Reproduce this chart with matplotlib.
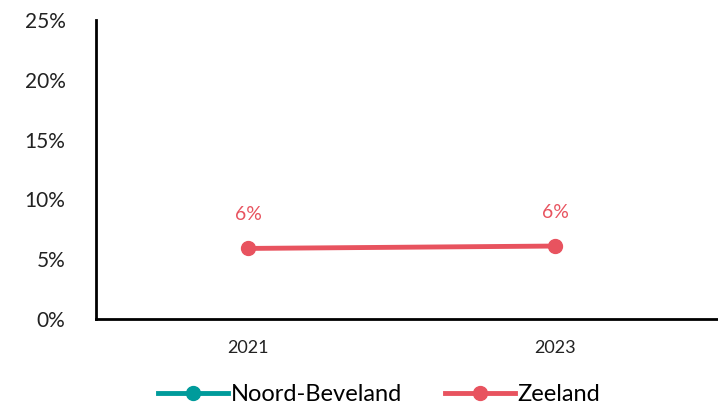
import matplotlib.pyplot as plt
import numpy as np
from matplotlib.ticker import FuncFormatter

years = ["2021", "2023"]
noord_beveland = [np.nan, np.nan]
zeeland = [5.9, 6.1]
zeeland_labels = ["6%", "6%"]

plt.rcParams["font.family"] = ["Lato", "DejaVu Sans"]

fig = plt.figure(figsize=(7.18, 4.08), dpi=100)
ax = fig.add_axes([96 / 718, 1 - 319 / 408, 1 - 96 / 718, 299 / 408])

x = np.arange(len(years))
ax.plot(x, noord_beveland, color="#009B9B", linewidth=3.5, marker="o",
        markersize=10, label="Noord-Beveland")
ax.plot(x, zeeland, color="#E8535F", linewidth=3.5, marker="o",
        markersize=10, label="Zeeland")
for xi, yi, lab in zip(x, zeeland, zeeland_labels):
    ax.annotate(lab, (xi, yi), xytext=(0, 18), textcoords="offset points",
                ha="center", va="bottom", color="#E8535F", fontsize=14)

ax.set_ylim(0, 25)
ax.set_yticks(np.arange(0, 26, 5))
ax.yaxis.set_major_formatter(FuncFormatter(lambda v, _: f"{v:.0f}%"))
ax.set_xticks(x)
ax.set_xticklabels(years)
ax.set_xlim(-0.495, 1.53)

for side in ["top", "right"]:
    ax.spines[side].set_visible(False)
for side in ["left", "bottom"]:
    ax.spines[side].set_linewidth(2)
    ax.spines[side].set_color("black")
ax.tick_params(axis="y", length=0, pad=22, labelsize=15, labelcolor="#222222")
ax.tick_params(axis="x", length=0, pad=15, labelsize=13, labelcolor="#222222")

leg = fig.legend(loc="lower center", bbox_to_anchor=(0.528, -0.045), ncol=2,
                 frameon=False, fontsize=17, handlelength=3.0,
                 handletextpad=0.1, columnspacing=1.8)

fig.savefig("out.png", dpi=100)
